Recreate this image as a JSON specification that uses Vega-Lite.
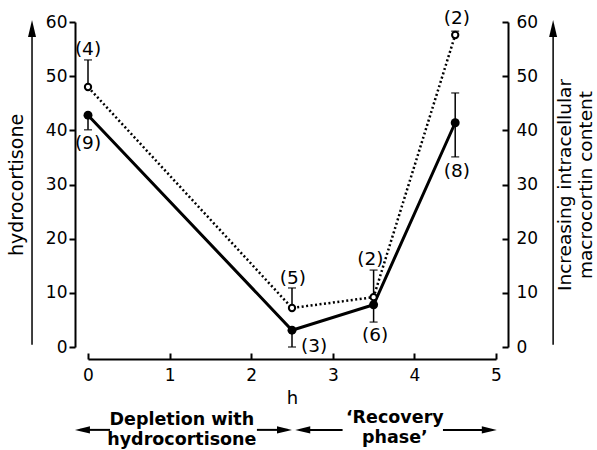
{
  "$schema": "https://vega.github.io/schema/vega-lite/v6.json",
  "width": 408,
  "height": 325,
  "autosize": "none",
  "padding": {"left": 88, "top": 22, "right": 101, "bottom": 103},
  "background": "white",
  "config": {
    "view": {"stroke": null},
    "font": "DejaVu Sans",
    "axis": {
      "grid": false,
      "domainColor": "black",
      "domainWidth": 2,
      "tickColor": "black",
      "tickWidth": 2,
      "labelColor": "black",
      "labelFont": "DejaVu Sans",
      "labelFontSize": 17,
      "labelFlush": false,
      "labelOverlap": false,
      "titleColor": "black",
      "titleFont": "DejaVu Sans",
      "titleFontSize": 19,
      "titleFontWeight": "normal"
    }
  },
  "datasets": {
    "pts": [
      {"h": 0, "v": 48.0, "s": "open"},
      {"h": 2.5, "v": 7.2, "s": "open"},
      {"h": 3.5, "v": 9.2, "s": "open"},
      {"h": 4.5, "v": 57.6, "s": "open"},
      {"h": 0, "v": 42.8, "s": "filled"},
      {"h": 2.5, "v": 3.1, "s": "filled"},
      {"h": 3.5, "v": 7.8, "s": "filled"},
      {"h": 4.5, "v": 41.4, "s": "filled"}
    ],
    "err": [
      {"h": 0, "lo": 48.0, "hi": 53.0},
      {"h": 0, "lo": 40.1, "hi": 42.8},
      {"h": 2.5, "lo": 7.2, "hi": 10.9},
      {"h": 2.5, "lo": 0, "hi": 3.1},
      {"h": 3.5, "lo": 9.2, "hi": 14.2},
      {"h": 3.5, "lo": 4.6, "hi": 7.8},
      {"h": 4.5, "lo": 35.1, "hi": 46.9},
      {"h": 4.5, "lo": 57.6, "hi": 58.3}
    ],
    "caps": [
      {"h": 0, "v": 53.0},
      {"h": 0, "v": 40.1},
      {"h": 2.5, "v": 10.9},
      {"h": 2.5, "v": 0},
      {"h": 3.5, "v": 14.2},
      {"h": 3.5, "v": 4.6},
      {"h": 4.5, "v": 46.9},
      {"h": 4.5, "v": 35.1},
      {"h": 4.5, "v": 58.3}
    ],
    "nlab": [
      {"h": 0, "v": 55.0, "t": "(4)"},
      {"h": 0, "v": 37.6, "t": "(9)"},
      {"h": 2.51, "v": 12.8, "t": "(5)"},
      {"h": 2.77, "v": 0.1, "t": "(3)"},
      {"h": 3.46, "v": 16.2, "t": "(2)"},
      {"h": 3.52, "v": 2.2, "t": "(6)"},
      {"h": 4.52, "v": 60.7, "t": "(2)"},
      {"h": 4.52, "v": 32.5, "t": "(8)"}
    ],
    "notes": [
      {"h": 1.15, "v": -13.4, "t": "Depletion with"},
      {"h": 1.15, "v": -17.1, "t": "hydrocortisone"},
      {"h": 3.76, "v": -13.1, "t": "‘Recovery"},
      {"h": 3.76, "v": -16.8, "t": "phase’"}
    ],
    "shafts": [
      {"h": -0.1, "h2": 0.27, "v": -15.3},
      {"h": 2.07, "h2": 2.45, "v": -15.3},
      {"h": 2.59, "h2": 3.12, "v": -15.3},
      {"h": 4.35, "h2": 4.96, "v": -15.3}
    ],
    "headsL": [
      {"h": -0.16, "v": -15.3},
      {"h": 2.54, "v": -15.3}
    ],
    "headsR": [
      {"h": 2.5, "v": -15.3},
      {"h": 5.01, "v": -15.3}
    ],
    "vshafts": [
      {"h": -0.686, "v": 0.4, "v2": 58.0},
      {"h": 5.70, "v": 0.4, "v2": 58.0}
    ],
    "headsU": [
      {"h": -0.686, "v": 60.37},
      {"h": 5.70, "v": 60.37}
    ]
  },
  "resolve": {"scale": {"x": "shared", "y": "shared"}, "axis": {"x": "independent", "y": "independent"}},
  "layer": [
    {
      "data": {"name": "pts"},
      "transform": [{"filter": "datum.s === 'filled'"}],
      "mark": {"type": "line", "color": "black", "strokeWidth": 3},
      "encoding": {
        "x": {"field": "h", "type": "quantitative",
              "scale": {"domain": [0, 5], "nice": false, "zero": false},
              "axis": {"title": "h", "values": [0, 1, 2, 3, 4, 5], "offset": 12, "tickSize": -6,
                       "labelPadding": 14, "titleFontSize": 18, "titlePadding": 6}},
        "y": {"field": "v", "type": "quantitative",
              "scale": {"domain": [0, 60], "nice": false, "zero": false},
              "axis": {"orient": "left", "title": "hydrocortisone", "values": [0, 10, 20, 30, 40, 50, 60],
                       "offset": 13, "tickSize": 6, "labelPadding": 2, "titlePadding": 19}}
      }
    },
    {
      "data": {"name": "pts"},
      "transform": [{"filter": "datum.s === 'open'"}],
      "mark": {"type": "line", "color": "black", "strokeWidth": 2.5, "strokeDash": [2, 2.5]},
      "encoding": {
        "x": {"field": "h", "type": "quantitative", "axis": null},
        "y": {"field": "v", "type": "quantitative", "axis": null}
      }
    },
    {
      "data": {"name": "err"},
      "mark": {"type": "rule", "color": "black", "strokeWidth": 1.5},
      "encoding": {
        "x": {"field": "h", "type": "quantitative", "axis": null},
        "y": {"field": "lo", "type": "quantitative",
              "axis": {"orient": "right", "title": ["Increasing intracellular", "macrocortin content"],
                       "titleAngle": 270, "titleLineHeight": 21, "titleFontSize": 18.5,
                       "values": [0, 10, 20, 30, 40, 50, 60],
                       "offset": 12, "tickSize": -6, "labelPadding": 14, "titlePadding": 16}},
        "y2": {"field": "hi"}
      }
    },
    {
      "data": {"name": "caps"},
      "mark": {"type": "tick", "orient": "horizontal", "color": "black", "size": 8, "thickness": 1.5},
      "encoding": {
        "x": {"field": "h", "type": "quantitative", "axis": null},
        "y": {"field": "v", "type": "quantitative", "axis": null}
      }
    },
    {
      "data": {"name": "pts"},
      "transform": [{"filter": "datum.s === 'filled'"}],
      "mark": {"type": "point", "shape": "circle", "filled": true, "color": "black", "size": 80, "opacity": 1},
      "encoding": {
        "x": {"field": "h", "type": "quantitative", "axis": null},
        "y": {"field": "v", "type": "quantitative", "axis": null}
      }
    },
    {
      "data": {"name": "pts"},
      "transform": [{"filter": "datum.s === 'open'"}],
      "mark": {"type": "point", "shape": "circle", "filled": false, "fill": "white", "stroke": "black", "strokeWidth": 2, "size": 40, "opacity": 1, "fillOpacity": 1},
      "encoding": {
        "x": {"field": "h", "type": "quantitative", "axis": null},
        "y": {"field": "v", "type": "quantitative", "axis": null}
      }
    },
    {
      "data": {"name": "nlab"},
      "mark": {"type": "text", "font": "DejaVu Sans", "fontSize": 18.5, "fontWeight": "normal", "color": "black", "baseline": "middle", "align": "center"},
      "encoding": {
        "x": {"field": "h", "type": "quantitative", "axis": null},
        "y": {"field": "v", "type": "quantitative", "axis": null},
        "text": {"field": "t"}
      }
    },
    {
      "data": {"name": "notes"},
      "mark": {"type": "text", "font": "DejaVu Sans", "fontSize": 17.5, "fontWeight": "bold", "color": "black", "baseline": "middle", "align": "center"},
      "encoding": {
        "x": {"field": "h", "type": "quantitative", "axis": null},
        "y": {"field": "v", "type": "quantitative", "axis": null},
        "text": {"field": "t"}
      }
    },
    {
      "data": {"name": "shafts"},
      "mark": {"type": "rule", "color": "black", "strokeWidth": 2},
      "encoding": {
        "x": {"field": "h", "type": "quantitative", "axis": null},
        "x2": {"field": "h2"},
        "y": {"field": "v", "type": "quantitative", "axis": null}
      }
    },
    {
      "data": {"name": "headsL"},
      "mark": {"type": "point", "shape": "M0,0L2,-0.47L2,0.47Z", "filled": true, "color": "black", "size": 225, "opacity": 1},
      "encoding": {
        "x": {"field": "h", "type": "quantitative", "axis": null},
        "y": {"field": "v", "type": "quantitative", "axis": null}
      }
    },
    {
      "data": {"name": "headsR"},
      "mark": {"type": "point", "shape": "M0,0L-2,-0.47L-2,0.47Z", "filled": true, "color": "black", "size": 225, "opacity": 1},
      "encoding": {
        "x": {"field": "h", "type": "quantitative", "axis": null},
        "y": {"field": "v", "type": "quantitative", "axis": null}
      }
    },
    {
      "data": {"name": "vshafts"},
      "mark": {"type": "rule", "color": "black", "strokeWidth": 1.5},
      "encoding": {
        "x": {"field": "h", "type": "quantitative", "axis": null},
        "y": {"field": "v", "type": "quantitative", "axis": null},
        "y2": {"field": "v2"}
      }
    },
    {
      "data": {"name": "headsU"},
      "mark": {"type": "point", "shape": "M0,0L-0.47,2L0.47,2Z", "filled": true, "color": "black", "size": 289, "opacity": 1},
      "encoding": {
        "x": {"field": "h", "type": "quantitative", "axis": null},
        "y": {"field": "v", "type": "quantitative", "axis": null}
      }
    }
  ]
}
